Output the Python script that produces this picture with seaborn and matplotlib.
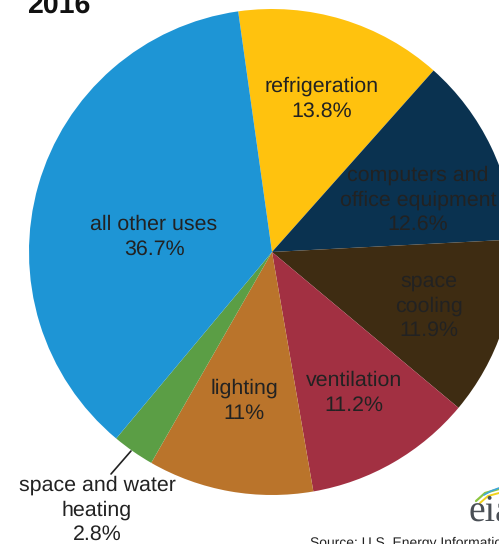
import matplotlib
matplotlib.use("Agg")
import matplotlib.pyplot as plt
import seaborn as sns

title = "2016"
categories = ["refrigeration", "computers and\noffice equipment", "space\ncooling",
              "ventilation", "lighting", "space and water\nheating", "all other uses"]
values = [13.8, 12.6, 11.9, 11.2, 11, 2.8, 36.7]
value_labels = ["13.8%", "12.6%", "11.9%", "11.2%", "11%", "2.8%", "36.7%"]
colors = ["#FFC20E", "#0A3250", "#3E2C12", "#A23042", "#BA742B", "#5B9E45", "#1E95D5"]
source = "Source: U.S. Energy Information Administration"

sns.set_theme(style="white")
plt.rcParams["font.family"] = ["Liberation Sans", "DejaVu Sans"]
plt.rcParams["text.hinting"] = "no_hinting"

W, H = 499, 544
fig = plt.figure(figsize=(W / 100, H / 100), dpi=100, facecolor="white")
ax = fig.add_axes([0, 0, 1, 1])
ax.pie(values, colors=sns.color_palette(colors), startangle=98, counterclock=False,
       center=(272, H - 252), radius=243, frame=True,
       wedgeprops={"linewidth": 0, "edgecolor": "none"})
ax.set_xlim(0, W)
ax.set_ylim(0, H)
ax.set_aspect("equal")
ax.axis("off")

FS = 15.4
TC = "#222222"
def Y(y):
    return H - y

label_pos = [(322, 99), (418, 200), (429, 306), (354, 393), (244, 401), (97, 510), (154, 237)]
for i, (c, v, (x, y)) in enumerate(zip(categories, value_labels, label_pos)):
    ax.text(x, Y(y), f"{c}\n{v}", ha="center", va="center", fontsize=FS, color=TC,
            linespacing=1.34, clip_on=False)

# leader line of the small slice
ax.plot([111, 131], [Y(474), Y(451)], color="#222222", lw=1.2)

ax.text(27, Y(13), title, fontsize=20.5, fontweight="bold", color="#111111", ha="left", va="baseline")

# eia logo fragment and source line
ax.plot([476, 485, 499], [Y(501), Y(493), Y(489)], color="#8CC63F", lw=1.6)
ax.plot([480, 488, 499], [Y(503), Y(496), Y(493)], color="#F2D21B", lw=1.4)
ax.plot([484, 491, 499], [Y(495), Y(491), Y(488)], color="#3FA7DC", lw=1.2)
ax.text(469, Y(521), "eia", fontsize=27, family="Liberation Serif", color="#4A4F55", ha="left", va="baseline")
ax.text(310, Y(547), source, fontsize=10, color="#222222", ha="left", va="baseline")

fig.savefig("out.png", dpi=100)
